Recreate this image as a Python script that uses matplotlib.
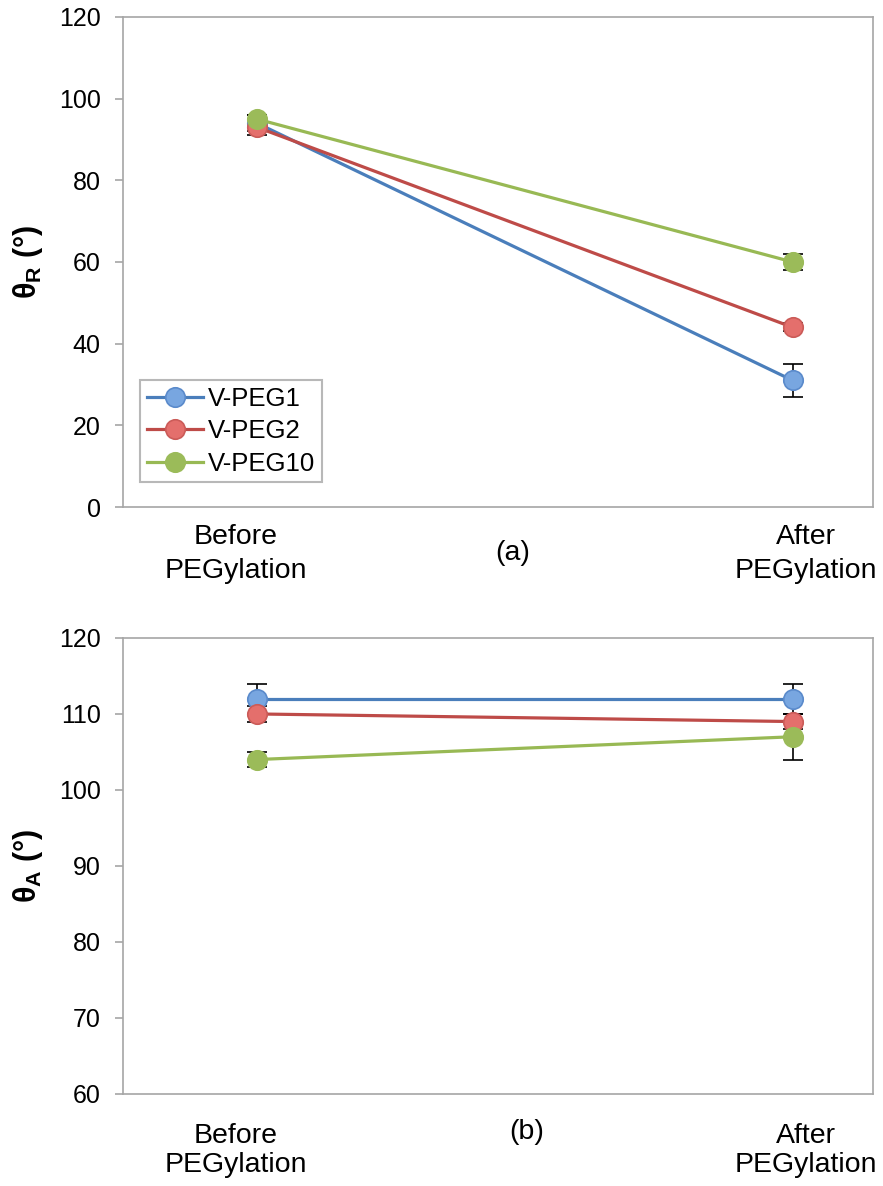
import matplotlib
matplotlib.use("Agg")
import matplotlib.pyplot as plt

plt.rcParams['font.family'] = ['Liberation Sans', 'DejaVu Sans']
plt.rcParams['mathtext.fontset'] = 'custom'
plt.rcParams['mathtext.rm'] = 'Liberation Sans'
plt.rcParams['mathtext.bf'] = 'Liberation Sans:bold'

categories = ["Before\nPEGylation", "After\nPEGylation"]
series = ["V-PEG1", "V-PEG2", "V-PEG10"]

theta_r = {"V-PEG1": [94, 31], "V-PEG2": [93, 44], "V-PEG10": [95, 60]}
theta_r_err = {"V-PEG1": [2, 4], "V-PEG2": [2, 1], "V-PEG10": [1, 2]}
theta_a = {"V-PEG1": [112, 112], "V-PEG2": [110, 109], "V-PEG10": [104, 107]}
theta_a_err = {"V-PEG1": [2, 2], "V-PEG2": [1, 1], "V-PEG10": [1, 3]}

line_colors = {"V-PEG1": "#4A7EBB", "V-PEG2": "#BE4B48", "V-PEG10": "#98B954"}
fill_colors = {"V-PEG1": "#78A6E0", "V-PEG2": "#E46F6C", "V-PEG10": "#9BBB59"}
edge_colors = {"V-PEG1": "#5A8ACB", "V-PEG2": "#CB5B58", "V-PEG10": "#9BBB59"}

x = [0, 1]
gray = "#A6A6A6"

fig = plt.figure(figsize=(8.83, 11.86), dpi=100)
ax1 = fig.add_axes([0.1393, 0.5725, 0.8494, 0.4132])
ax2 = fig.add_axes([0.1393, 0.0776, 0.8494, 0.3845])


def style(ax, ylim, yticks, panel, sub, xpad, lsp, px, py):
    ax.set_xlim(-0.25, 1.15)
    ax.set_ylim(*ylim)
    ax.set_yticks(yticks)
    ax.set_yticklabels([str(t) for t in yticks], fontsize=18)
    ax.set_xticks([-0.04, 1.024])
    ax.set_xticklabels(categories, fontsize=20.5, linespacing=lsp)
    ax.tick_params(axis='x', length=0, pad=xpad)
    ax.tick_params(axis='y', length=6, color=gray, width=1.2, pad=10)
    for s in ax.spines.values():
        s.set_color(gray)
        s.set_linewidth(1.2)
    ax.set_ylabel(r"$\mathbf{\theta_{%s}}$ (°)" % sub, fontsize=22, fontweight='bold', labelpad=10)
    ax.text(px, py, panel, transform=ax.transAxes, ha='center', va='center', fontsize=20.5)


for name in series:
    ax1.errorbar(x, theta_r[name], yerr=theta_r_err[name], color=line_colors[name], lw=2.3,
                 marker='o', ms=14, mfc=fill_colors[name], mec=edge_colors[name], mew=1.2,
                 ecolor='black', elinewidth=1.2, capsize=7, capthick=1.5, label=name, zorder=3)
    ax2.errorbar(x, theta_a[name], yerr=theta_a_err[name], color=line_colors[name], lw=2.3,
                 marker='o', ms=14, mfc=fill_colors[name], mec=edge_colors[name], mew=1.2,
                 ecolor='black', elinewidth=1.2, capsize=7, capthick=1.5, label=name, zorder=3)

style(ax1, (0, 120), [0, 20, 40, 60, 80, 100, 120], "(a)", "R", 12, 1.42, 0.519, -0.093)
style(ax2, (60, 120), [60, 70, 80, 90, 100, 110, 120], "(b)", "A", 21, 1.15, 0.538, -0.083)

handles, labels = ax1.get_legend_handles_labels()
handles = [h[0] for h in handles]
leg = ax1.legend(handles, labels, loc='lower left', bbox_to_anchor=(0.023, 0.051), fontsize=18.5,
                 frameon=True, fancybox=False, edgecolor=gray, borderpad=0.25,
                 handlelength=2.2, handletextpad=0.2, labelspacing=0.33, borderaxespad=0)
leg.get_frame().set_linewidth(1.5)

fig.savefig("out.png", dpi=100)
